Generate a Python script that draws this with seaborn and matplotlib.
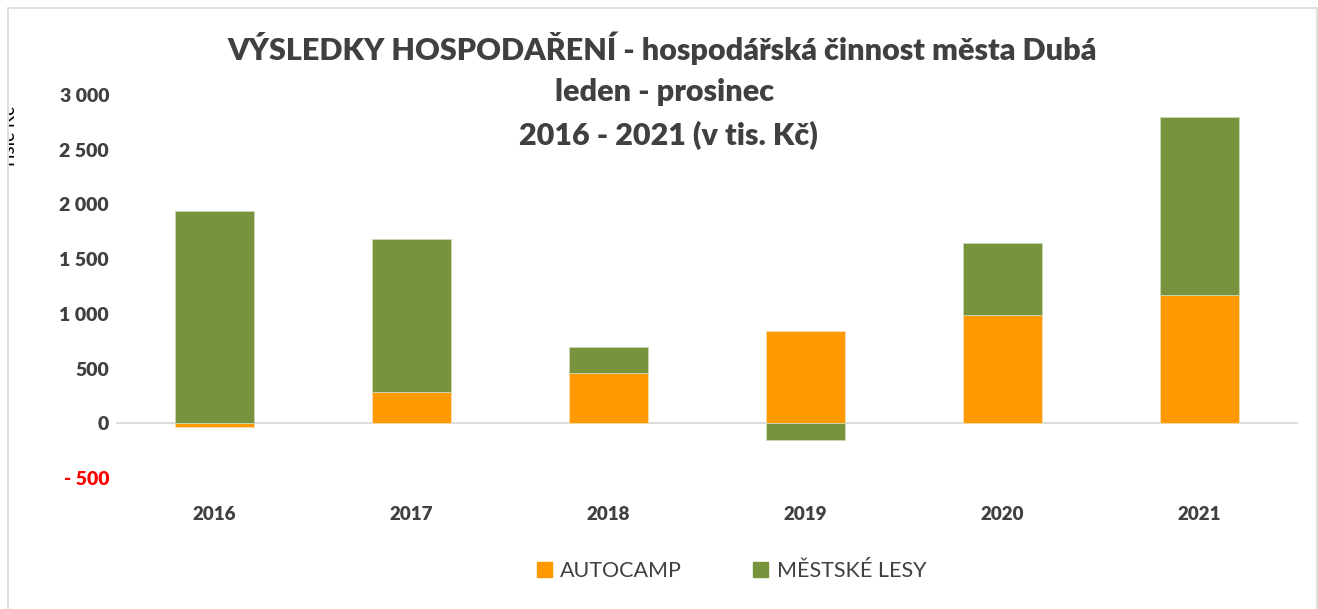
import numpy as np
import pandas as pd
import matplotlib
matplotlib.use("Agg")
import matplotlib.pyplot as plt
import seaborn as sns
from matplotlib.patches import Patch, Rectangle

years = ["2016", "2017", "2018", "2019", "2020", "2021"]
autocamp = [-30, 284, 457, 842, 988, 1171]
lesy = [1940, 1400, 238, -155, 659, 1629]
series_names = ["AUTOCAMP", "MĚSTSKÉ LESY"]
yticks = [-500, 0, 500, 1000, 1500, 2000, 2500, 3000]
title_lines = ["VÝSLEDKY HOSPODAŘENÍ - hospodářská činnost města Dubá",
               "leden - prosinec",
               "2016 - 2021 (v tis. Kč)"]

c_orange = "#FF9900"
c_green = "#77933C"
txt = "#404040"

sns.set_theme(style="white")
plt.rcParams["font.family"] = ["Lato", "DejaVu Sans"]

df = pd.DataFrame({"rok": years, "autocamp": autocamp, "lesy": lesy})
# stack positive on positive, negative on negative
df["base"] = [max(a, 0) if l >= 0 else min(a, 0) for a, l in zip(autocamp, lesy)]

fig = plt.figure(figsize=(13.18, 6.09), dpi=100)
ax = fig.add_axes([116 / 1318, 1 - 478 / 609, 1182 / 1318, 383 / 609])

sns.barplot(data=df, x="rok", y="autocamp", color=c_orange, width=0.4, saturation=1,
            edgecolor="#f8dcae", linewidth=0.6, ax=ax)
sns.barplot(data=df, x="rok", y="lesy", bottom=df["base"], color=c_green, width=0.4,
            saturation=1, edgecolor="#cdd8b6", linewidth=0.6, ax=ax)

ax.axhline(0, color="#d9d9d9", lw=1.3, zorder=0.5)
ax.set_ylim(-500, 3000)
ax.set_xlim(-0.5, 5.5)
ax.set_yticks(yticks)
ax.set_yticklabels(["- 500" if v < 0 else f"{v:,}".replace(",", " ") for v in yticks])
for lab, v in zip(ax.get_yticklabels(), yticks):
    lab.set_color("#FF0000" if v < 0 else txt)
    lab.set_fontweight("heavy")
    lab.set_fontsize(14)
for lab in ax.get_xticklabels():
    lab.set_color(txt)
    lab.set_fontweight("heavy")
    lab.set_fontsize(13.5)
ax.tick_params(axis="y", length=0, pad=5)
ax.tick_params(axis="x", length=0, pad=20)
ax.set_xlabel("")
ax.set_ylabel("")
for s in ax.spines.values():
    s.set_visible(False)
ax.patch.set_alpha(0)

ys = [48, 92, 135]
xs = [662, 665, 668]
for t, x, y in zip(title_lines, xs, ys):
    fig.text(x / 1318, 1 - y / 609, t, ha="center", va="center", fontsize=22,
             fontweight="heavy", color=txt)

fig.text(18 / 1318, 1 - 137 / 609, "Tisíc Kč", rotation=90, ha="right", va="center",
         fontsize=13.5, color="black")
# the axis title is half hidden behind the chart frame
fig.patches.append(Rectangle((0, 0), 9 / 1318, 1, transform=fig.transFigure,
                             facecolor="white", edgecolor="none", zorder=4))

handles = [Patch(color=c_orange), Patch(color=c_green)]
fig.legend(handles, series_names, loc="center", bbox_to_anchor=(0.555, 1 - 571 / 609),
           ncol=2, frameon=False, fontsize=15.5, handlelength=0.7, handleheight=0.7,
           handletextpad=0.4, columnspacing=3.3, labelcolor=txt)

fig.patches.append(Rectangle((8 / 1318, -0.05), 1309 / 1318, 1.05 - 8 / 609,
                             transform=fig.transFigure, fill=False,
                             edgecolor="#d9d9d9", lw=1.2, zorder=5))

fig.savefig("out.png", dpi=100)
